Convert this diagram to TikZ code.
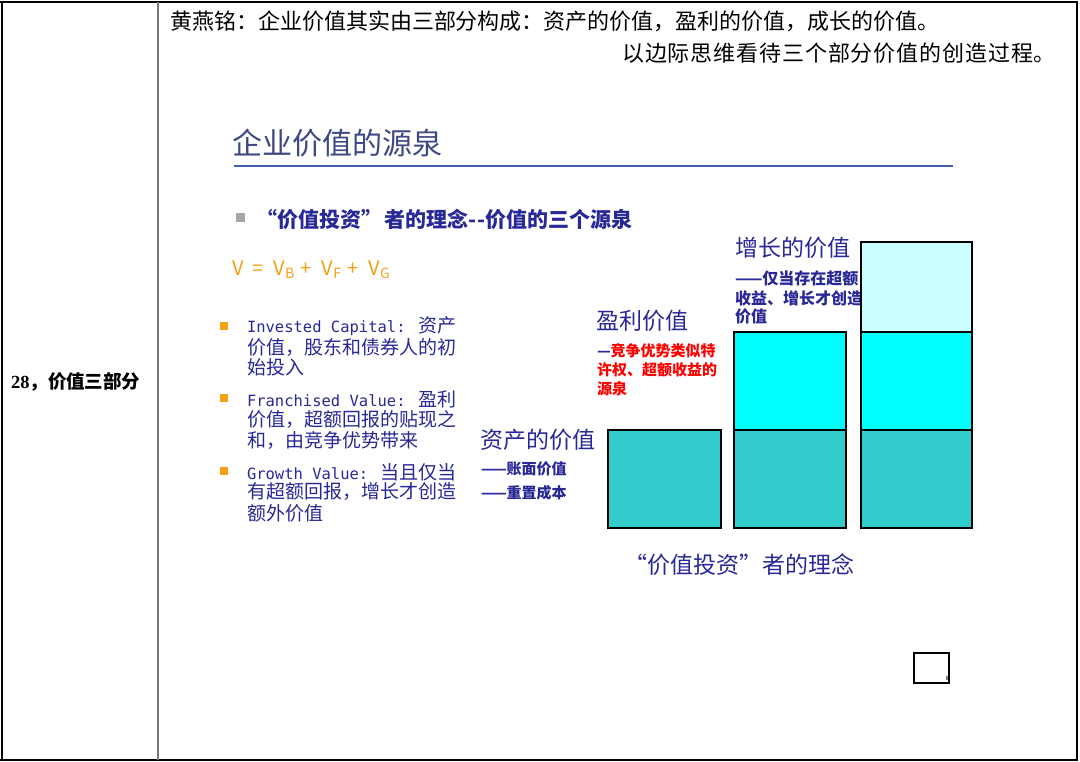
\documentclass[tikz,border=0pt]{standalone}
\usepackage{fontspec}
\setmainfont{Noto Sans CJK SC}
\newfontfamily\cjk{Noto Sans CJK SC}
\newfontfamily\cjkwide[LetterSpace=4]{Noto Sans CJK SC}
\newfontfamily\monolat{DejaVu Sans Mono}
\newfontfamily\serifnum{Liberation Serif}
\definecolor{navy}{RGB}{40,40,150}
\definecolor{titleblue}{RGB}{62,72,130}
\definecolor{ruleblue}{RGB}{70,90,175}
\definecolor{vorange}{RGB}{245,160,20}
\definecolor{teal}{RGB}{51,204,204}
\definecolor{cyanfill}{RGB}{0,255,255}
\definecolor{lightcyan}{RGB}{204,255,255}
\definecolor{dividergray}{RGB}{120,120,120}
\begin{document}
\begin{tikzpicture}[x=1pt,y=-1pt,
  txt/.style={inner sep=0pt,outer sep=0pt,anchor=west},
  topline/.style={txt,font=\cjk\fontsize{22}{22}\selectfont,text=black},
  bul/.style={txt,font=\cjk\fontsize{19}{19}\selectfont,text=navy},
  head/.style={txt,font=\cjk\fontsize{23}{23}\selectfont,text=navy},
  small/.style={txt,font=\cjk\bfseries\fontsize{15}{15}\selectfont,text=navy},
  osq/.style={fill=vorange,draw=none,minimum size=8pt,inner sep=0pt},
  bar/.style={draw=black,line width=1.4pt},
]
\useasboundingbox (0,0) rectangle (1080,762);
% table frame
\draw[line width=2.5pt] (0,2) -- (1078,2);
\draw[line width=2pt] (1.5,2) -- (1.5,760);
\draw[line width=2pt] (1077,2) -- (1077,760);
\draw[line width=2pt] (0,760) -- (1078,760);
\draw[line width=2pt,dividergray] (158,2) -- (158,760);
% left cell
\node[txt] (cell) at (11,382) {\bfseries\fontsize{18.5}{18.5}\selectfont{\serifnum 28}\cjk ，价值三部分};
% top text
\node[topline] (l1) at (170,21) {黄燕铭：企业价值其实由三部分构成：资产的价值，盈利的价值，成长的价值。};
\node[topline,anchor=east,font=\cjkwide\fontsize{22}{22}\selectfont] (l2) at (1056,53) {以边际思维看待三个部分价值的创造过程。};
% slide title
\node[txt,font=\cjk\fontsize{30}{30}\selectfont,text=titleblue] (title) at (232,143) {企业价值的源泉};
\draw[ruleblue,line width=1.6pt] (234,166) -- (953,166);
% subtitle
\node[fill=gray!70,minimum size=9pt,inner sep=0pt] (gsq) at (240,218) {};
\node[txt,font=\cjk\bfseries\fontsize{21}{21}\selectfont,text=navy] (sub) at (256,219) {“价值投资”\hspace{3pt}者的理念--价值的三个源泉};
% formula
\node[txt,font=\cjk\fontsize{20}{20}\selectfont,text=vorange] (formula) at (232,270)
  {V\hspace{9pt}=\hspace{10pt}V\textsubscript{B}\hspace{6pt}+\hspace{10pt}V\textsubscript{F}\hspace{6pt}+\hspace{10pt}V\textsubscript{G}};
% bullets
\node[osq] (b1) at (224,326) {};
\node[bul] (b1a) at (247,326) {{\monolat\fontsize{15.5}{15.5}\selectfont Invested Capital: }资产};
\node[bul] (b1b) at (247,347) {价值，股东和债券人的初};
\node[bul] (b1c) at (247,367) {始投入};
\node[osq] (b2) at (224,398) {};
\node[bul] (b2a) at (247,399) {{\monolat\fontsize{15.5}{15.5}\selectfont Franchised Value: }盈利};
\node[bul] (b2b) at (247,419) {价值，超额回报的贴现之};
\node[bul] (b2c) at (247,440) {和，由竞争优势带来};
\node[osq] (b3) at (224,471) {};
\node[bul] (b3a) at (247,472) {{\monolat\fontsize{15.5}{15.5}\selectfont Growth Value: }当且仅当};
\node[bul] (b3b) at (247,492) {有超额回报，增长才创造};
\node[bul] (b3c) at (247,513) {额外价值};
% labels
\node[head] (asset) at (480,440) {资产的价值};
\node[small] (asset1) at (481,469) {——账面价值};
\node[small] (asset2) at (481,493) {——重置成本};
\node[head] (profit) at (596,321) {盈利价值};
\node[small] (profit1) at (597,351) {—\textcolor{red}{竞争优势类似特}};
\node[small,text=red] (profit2) at (597,370) {许权、超额收益的};
\node[small,text=red] (profit3) at (597,389) {源泉};
\node[head] (growth) at (735,248) {增长的价值};
\node[small,font=\cjk\bfseries\fontsize{16}{16}\selectfont] (growth1) at (735,278) {——仅当存在超额};
\node[small,font=\cjk\bfseries\fontsize{16}{16}\selectfont] (growth2) at (735,298) {收益、增长才创造};
\node[small,font=\cjk\bfseries\fontsize{16}{16}\selectfont] (growth3) at (735,316) {价值};
% bars
\draw[bar,fill=teal] (608,430) rectangle (721,528);
\draw[bar,fill=teal] (734,430) rectangle (846,528);
\draw[bar,fill=cyanfill] (734,332) rectangle (846,430);
\draw[bar,fill=teal] (861,430) rectangle (972,528);
\draw[bar,fill=cyanfill] (861,332) rectangle (972,430);
\draw[bar,fill=lightcyan] (861,242) rectangle (972,332);
% caption
\node[head] (caption) at (624,565) {“价值投资”者的理念};
% small box
\draw[line width=1.5pt] (914,653) rectangle (949,683);
\fill[gray] (945.5,676) rectangle (947.5,680);
\end{tikzpicture}
\end{document}
